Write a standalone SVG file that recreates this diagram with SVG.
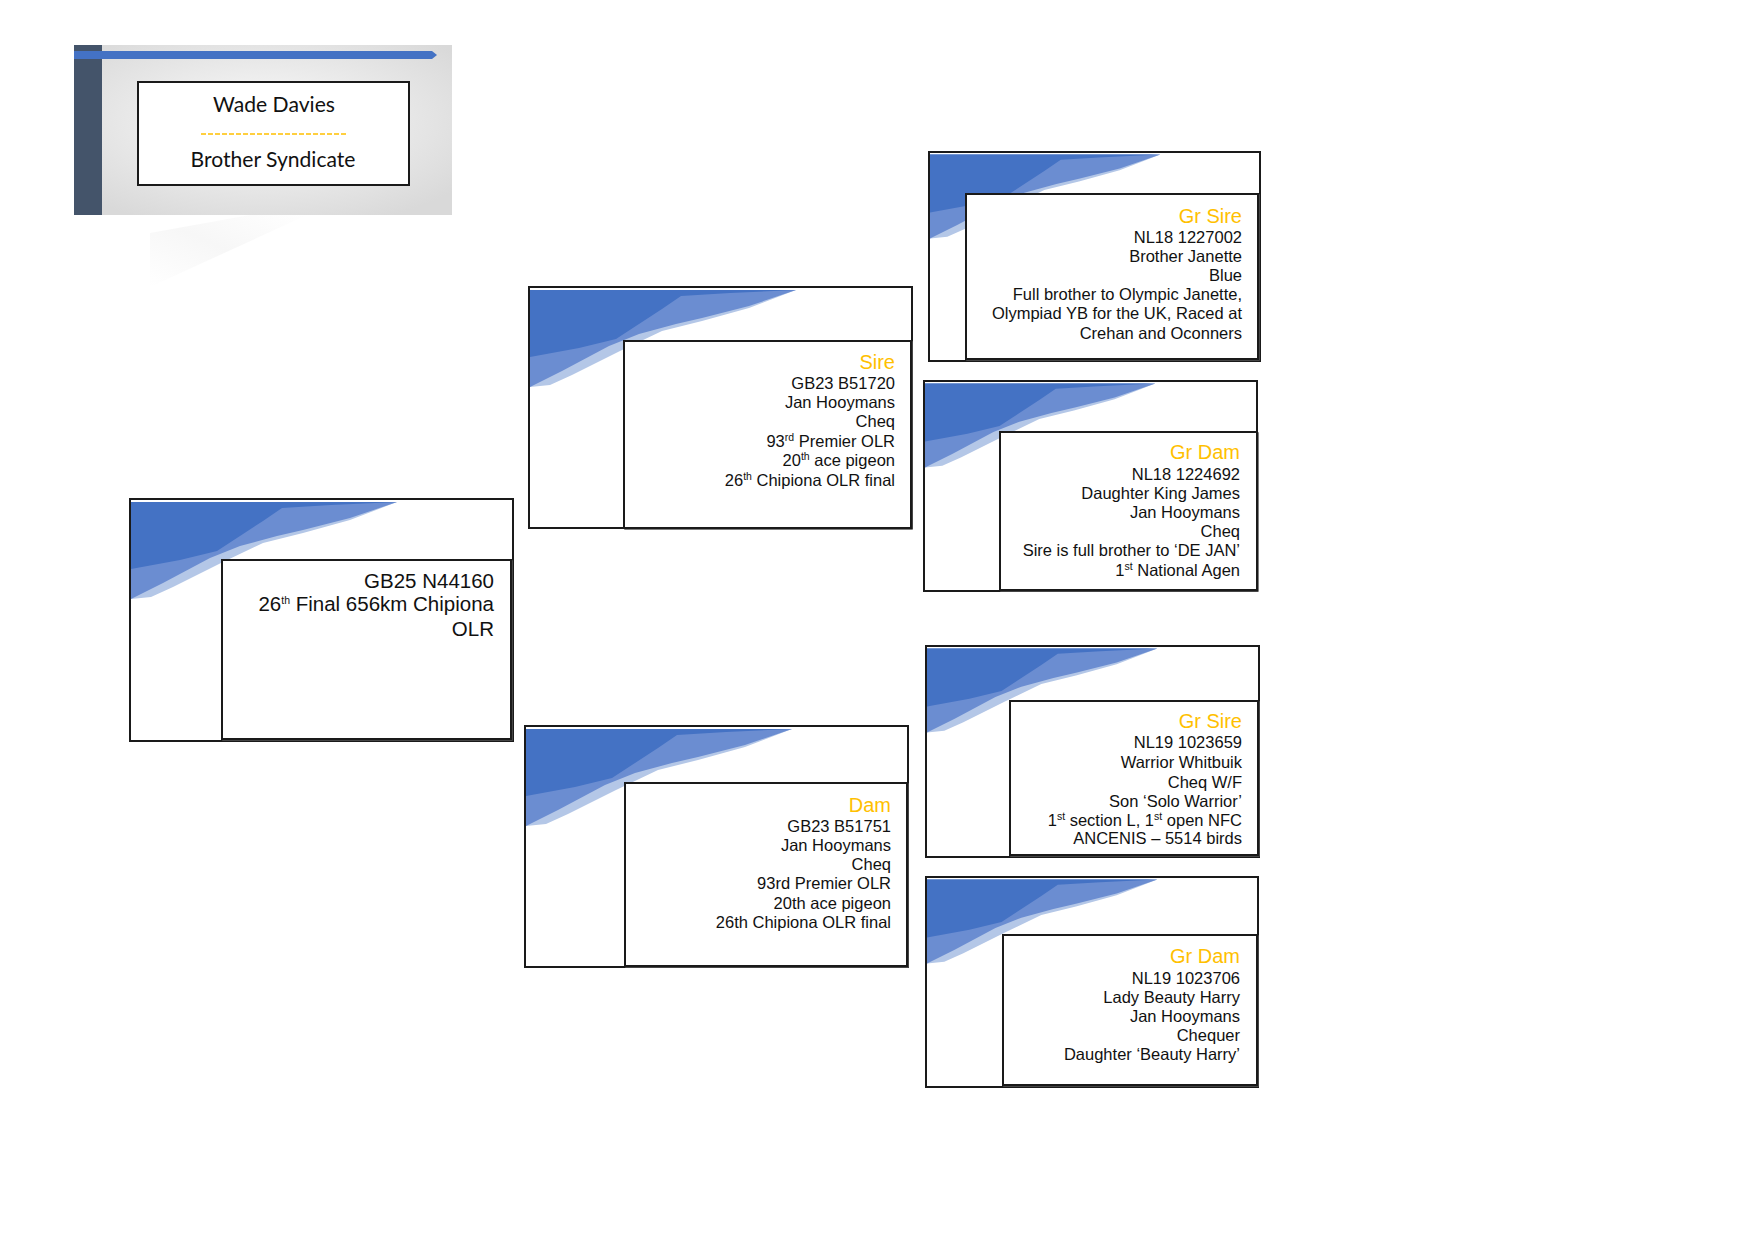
<svg xmlns="http://www.w3.org/2000/svg" width="1755" height="1241" viewBox="0 0 1755 1241">
<style>
.outer{fill:#ffffff;stroke:#1a1a1a;stroke-width:2}
.inner{fill:#ffffff;stroke:#1a1a1a;stroke-width:2}
.shadow{fill:none;stroke:#555;stroke-width:1.5}
.t{font-family:"Liberation Sans",Arial,sans-serif;font-size:16.5px;fill:#111;text-anchor:end}
.h{font-family:"Liberation Sans",Arial,sans-serif;font-size:20px;fill:#FFC000;text-anchor:end}
.m{font-family:"Liberation Sans",Arial,sans-serif;font-size:20.5px;fill:#111;text-anchor:end}
.sup{font-size:10.5px}
.ttl{font-family:Lato,"Open Sans",sans-serif;font-size:21.5px;fill:#111;text-anchor:middle}
</style>
<defs>
<radialGradient id="tg" cx="50%" cy="45%" r="65%">
<stop offset="0" stop-color="#fbfbfb"/>
<stop offset="1" stop-color="#d9d9d9"/>
</radialGradient>
<linearGradient id="fg" x1="0" y1="1" x2="1" y2="0">
<stop offset="0" stop-color="#ffffff"/>
<stop offset="0.5" stop-color="#f7f7f7"/>
<stop offset="1" stop-color="#ffffff"/>
</linearGradient>
<g id="sw">
<polygon fill="#B4C7E7" points="0,3 266,3 219,21 172,34 132,44 90,64 42,88 20,98 0,100"/>
<polygon fill="#6B8DD1" points="0,3 266,3 219,19 172,31 146,37 109,47 79,59 32,84 0,100"/>
<polygon fill="#4472C4" points="0,3 266,3 200,6 151,9 132,22 109,37 86,52 49,61 0,70"/>
</g>
</defs>
<rect width="1755" height="1241" fill="#ffffff"/>

<g id="title">
<polygon fill="url(#fg)" points="150,287 307,215 250,215 150,233"/>
<rect x="74" y="45" width="378" height="170" fill="url(#tg)"/>
<rect x="74" y="45" width="28" height="170" fill="#44546A"/>
<polygon fill="#4472C4" points="74,51 432,51 437,55 432,59 74,59"/>
<rect x="138" y="82" width="271" height="103" fill="#ffffff" stroke="#1a1a1a" stroke-width="2"/>
<text class="ttl" x="274" y="112" textLength="122" lengthAdjust="spacingAndGlyphs">Wade Davies</text>
<line x1="201" y1="134" x2="346" y2="134" stroke="#FFC000" stroke-width="1.5" stroke-dasharray="5 2"/>
<text class="ttl" x="273" y="167" textLength="165" lengthAdjust="spacingAndGlyphs">Brother Syndicate</text>
</g>

<g id="connectors"></g>

<g id="main">
<rect class="outer" x="130" y="499" width="383" height="242"/>
<use href="#sw" transform="translate(131,499)"/>
<rect class="shadow" x="223" y="561" width="289" height="179"/>
<rect class="inner" x="222" y="560" width="289" height="179"/>
<text class="m" x="494" y="588">GB25 N44160</text>
<text class="m" x="494" y="611">26<tspan class="sup" font-size="12px" dy="-7">th</tspan><tspan dy="7"> Final 656km Chipiona</tspan></text>
<text class="m" x="494" y="636">OLR</text>
</g>

<g id="sire">
<rect class="outer" x="529" y="287" width="383" height="241"/>
<use href="#sw" transform="translate(530,287)"/>
<rect class="shadow" x="625" y="342" width="287" height="187"/>
<rect class="inner" x="624" y="341" width="287" height="187"/>
<text class="h" x="895" y="369">Sire</text>
<text class="t" x="895" y="389">GB23 B51720</text>
<text class="t" x="895" y="408">Jan Hooymans</text>
<text class="t" x="895" y="427">Cheq</text>
<text class="t" x="895" y="447">93<tspan class="sup" dy="-6">rd</tspan><tspan dy="6"> Premier OLR</tspan></text>
<text class="t" x="895" y="466">20<tspan class="sup" dy="-6">th</tspan><tspan dy="6"> ace pigeon</tspan></text>
<text class="t" x="895" y="486">26<tspan class="sup" dy="-6">th</tspan><tspan dy="6"> Chipiona OLR final</tspan></text>
</g>

<g id="dam">
<rect class="outer" x="525" y="726" width="383" height="241"/>
<use href="#sw" transform="translate(526,726)"/>
<rect class="shadow" x="626" y="784" width="282" height="183"/>
<rect class="inner" x="625" y="783" width="282" height="183"/>
<text class="h" x="891" y="812">Dam</text>
<text class="t" x="891" y="832">GB23 B51751</text>
<text class="t" x="891" y="851">Jan Hooymans</text>
<text class="t" x="891" y="870">Cheq</text>
<text class="t" x="891" y="889">93rd Premier OLR</text>
<text class="t" x="891" y="909">20th ace pigeon</text>
<text class="t" x="891" y="928">26th Chipiona OLR final</text>
</g>

<g id="gr-sire-1">
<rect class="outer" x="929" y="152" width="331" height="209"/>
<use href="#sw" transform="translate(930,152) scale(0.866)"/>
<rect class="shadow" x="967" y="195" width="292" height="165"/>
<rect class="inner" x="966" y="194" width="292" height="165"/>
<text class="h" x="1242" y="223">Gr Sire</text>
<text class="t" x="1242" y="243">NL18 1227002</text>
<text class="t" x="1242" y="262">Brother Janette</text>
<text class="t" x="1242" y="281">Blue</text>
<text class="t" x="1242" y="300">Full brother to Olympic Janette,</text>
<text class="t" x="1242" y="319">Olympiad YB for the UK, Raced at</text>
<text class="t" x="1242" y="339">Crehan and Oconners</text>
</g>

<g id="gr-dam-1">
<rect class="outer" x="924" y="381" width="333" height="210"/>
<use href="#sw" transform="translate(925,381) scale(0.866)"/>
<rect class="shadow" x="1001" y="433" width="257" height="158"/>
<rect class="inner" x="1000" y="432" width="257" height="158"/>
<text class="h" x="1240" y="459">Gr Dam</text>
<text class="t" x="1240" y="480">NL18 1224692</text>
<text class="t" x="1240" y="499">Daughter King James</text>
<text class="t" x="1240" y="518">Jan Hooymans</text>
<text class="t" x="1240" y="537">Cheq</text>
<text class="t" x="1240" y="556">Sire is full brother to ‘DE JAN’</text>
<text class="t" x="1240" y="576">1<tspan class="sup" dy="-6">st</tspan><tspan dy="6"> National Agen</tspan></text>
</g>

<g id="gr-sire-2">
<rect class="outer" x="926" y="646" width="333" height="211"/>
<use href="#sw" transform="translate(927,646) scale(0.866)"/>
<rect class="shadow" x="1011" y="702" width="248" height="154"/>
<rect class="inner" x="1010" y="701" width="248" height="154"/>
<text class="h" x="1242" y="728">Gr Sire</text>
<text class="t" x="1242" y="748">NL19 1023659</text>
<text class="t" x="1242" y="768">Warrior Whitbuik</text>
<text class="t" x="1242" y="788">Cheq W/F</text>
<text class="t" x="1242" y="807">Son ‘Solo Warrior’</text>
<text class="t" x="1242" y="826">1<tspan class="sup" dy="-6">st</tspan><tspan dy="6"> section L, 1</tspan><tspan class="sup" dy="-6">st</tspan><tspan dy="6"> open NFC</tspan></text>
<text class="t" x="1242" y="844">ANCENIS – 5514 birds</text>
</g>

<g id="gr-dam-2">
<rect class="outer" x="926" y="877" width="332" height="210"/>
<use href="#sw" transform="translate(927,877) scale(0.866)"/>
<rect class="shadow" x="1004" y="936" width="254" height="150"/>
<rect class="inner" x="1003" y="935" width="254" height="150"/>
<text class="h" x="1240" y="963">Gr Dam</text>
<text class="t" x="1240" y="984">NL19 1023706</text>
<text class="t" x="1240" y="1003">Lady Beauty Harry</text>
<text class="t" x="1240" y="1022">Jan Hooymans</text>
<text class="t" x="1240" y="1041">Chequer</text>
<text class="t" x="1240" y="1060">Daughter ‘Beauty Harry’</text>
</g>
</svg>
